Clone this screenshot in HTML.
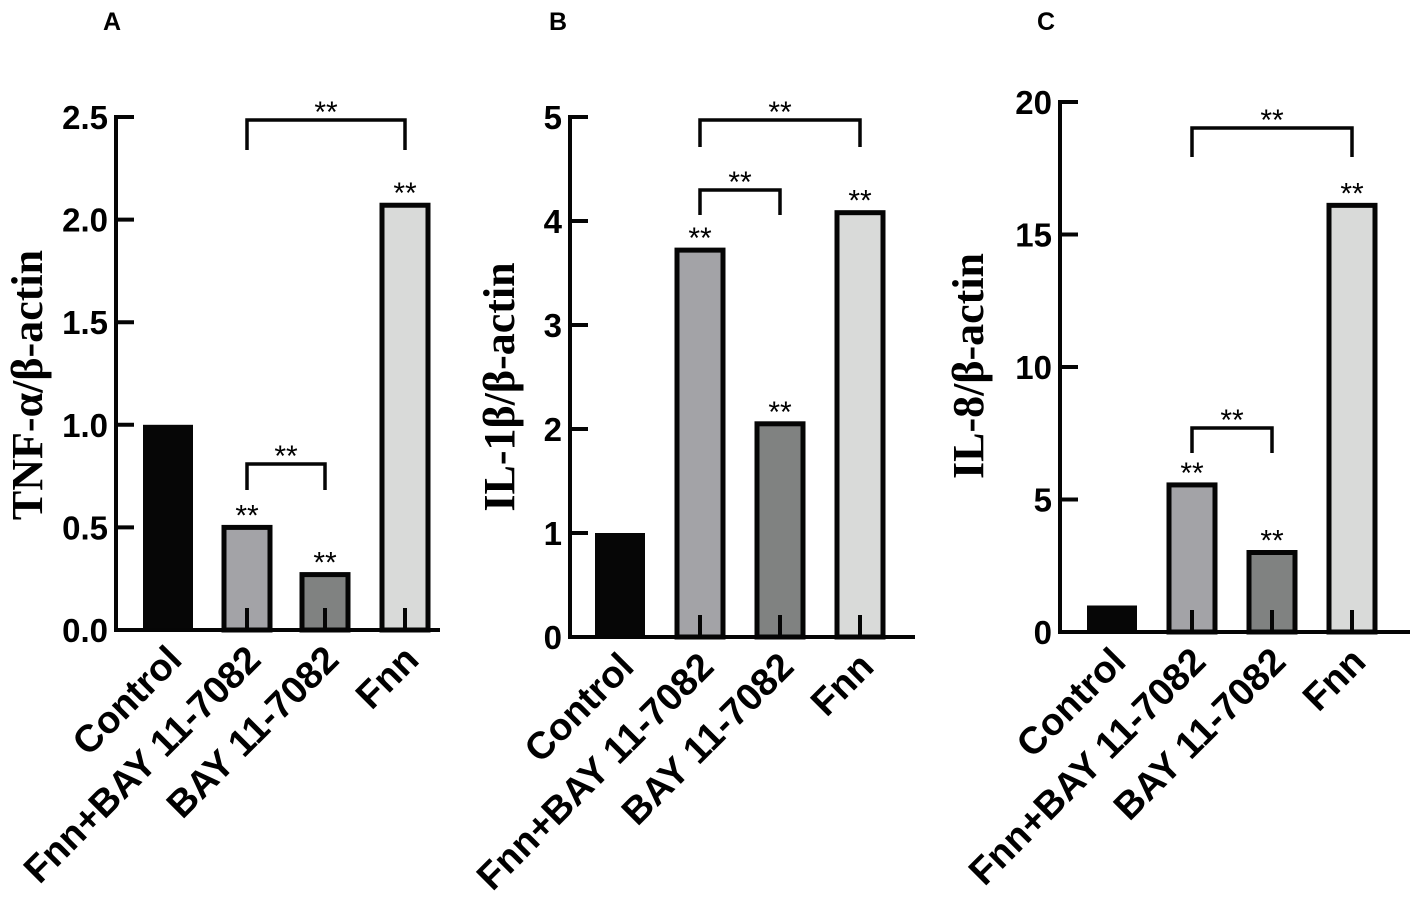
<!DOCTYPE html>
<html><head><meta charset="utf-8"><style>
body{margin:0;background:#fff}
svg{display:block}
</style></head><body>
<svg id="c" width="1417" height="910" viewBox="0 0 1417 910"></svg>
<script>
const categories = ["Control","Fnn+BAY 11-7082","BAY 11-7082","Fnn"];
const valuesA = [1.0, 0.5, 0.27, 2.07];
const valuesB = [1.0, 3.72, 2.05, 4.08];
const valuesC = [1.0, 5.55, 3.0, 16.1];
const ticksA = [0, 0.5, 1.0, 1.5, 2.0, 2.5];
const ticksB = [0, 1, 2, 3, 4, 5];
const ticksC = [0, 5, 10, 15, 20];
const tickLabelsA = ["0.0","0.5","1.0","1.5","2.0","2.5"];
const tickLabelsB = ["0","1","2","3","4","5"];
const tickLabelsC = ["0","5","10","15","20"];
const starsA = [false, true, true, true];
const starsB = [false, true, true, true];
const starsC = [false, true, true, true];

const fills = ["#060606","#a3a3a7","#808281","#d9dad9"];
const NS = "http://www.w3.org/2000/svg";
const SANS = '"Liberation Sans",Arial,sans-serif';
const SERIF = '"Liberation Serif","Times New Roman",serif';
const svg = document.getElementById('c');
function el(tag, attrs, parent, txt){
  const e = document.createElementNS(NS, tag);
  for (const k in attrs) e.setAttribute(k, attrs[k]);
  if (tag === 'text' && !attrs['font-family']) e.setAttribute('font-family', SANS);
  if (txt !== undefined) e.textContent = txt;
  (parent||svg).appendChild(e);
  return e;
}
const panels = [
  {id:'a', letter:'A', lx:112, axisX:116, y0:630, yTop:117, max:2.5, vals:valuesA, ticks:ticksA, tl:tickLabelsA, stars:starsA,
   centers:[168,247,325,405], end:440, title:"TNF-\u03b1/\u03b2-actin", tx:28, ty:385,
   brackets:[[1,3,120,150],[1,2,464,490]]},
  {id:'b', letter:'B', lx:558, axisX:570, y0:637, yTop:117, max:5, vals:valuesB, ticks:ticksB, tl:tickLabelsB, stars:starsB,
   centers:[620,700,780,860], end:915, title:"IL-1\u03b2/\u03b2-actin", tx:500, ty:387,
   brackets:[[1,3,120,147],[1,2,190,215]]},
  {id:'c', letter:'C', lx:1046, axisX:1060, y0:632, yTop:102, max:20, vals:valuesC, ticks:ticksC, tl:tickLabelsC, stars:starsC,
   centers:[1112,1192,1272,1352], end:1410, title:"IL-8/\u03b2-actin", tx:969, ty:366,
   brackets:[[1,3,128,157],[1,2,428,453]]}
];
panels.forEach(p=>{
  const g = el('g', {});
  
  
  const y = v => p.y0 - (v/p.max)*(p.y0-p.yTop);
  const L = el('text',{x:p.lx,y:30,'font-size':25,'font-weight':'bold','text-anchor':'middle'},g,p.letter);
  
  
  const T = el('text',{x:p.tx,y:p.ty,'font-size':44,'font-weight':'bold','text-anchor':'middle',
    'font-family':SERIF,transform:`rotate(-90 ${p.tx} ${p.ty})`,dy:14},g,p.title);
  
  
  p.vals.forEach((v,i)=>{
    const cx = p.centers[i], top = y(v);
    const r = el('rect',{x:cx-23,y:top,width:46,height:p.y0-top,fill:fills[i],stroke:'#050505','stroke-width':i===0?0:5},g);
    if(i===0){ r.setAttribute('x',cx-25); r.setAttribute('width',50); }
    
    
    if(i>0){
      const s = el('line',{x1:cx,x2:cx,y1:p.y0,y2:p.y0-22,stroke:'#050505','stroke-width':4},g);
      
      
    }
    if(p.stars[i]){
      const st = el('text',{x:cx,y:top-2,'font-size':30,'text-anchor':'middle'},g,'**');
      
      
    }
    const ax0 = cx-4, ay0 = p.y0+12;
    const lab = el('text',{x:ax0,y:ay0,'font-size':38,'font-weight':'bold','text-anchor':'end',
      transform:`rotate(-45 ${ax0} ${ay0})`,dy:28},g,categories[i]);
    
    
  });
  const ax = el('path',{d:`M${p.axisX} ${p.yTop-2}V${p.y0}H${p.end}`,fill:'none',stroke:'#050505','stroke-width':4},g);
  
  
  p.ticks.forEach((t,i)=>{
    const ty = y(t);
    const tk = el('line',{x1:p.axisX,x2:p.axisX+18,y1:ty,y2:ty,stroke:'#050505','stroke-width':4},g);
    
    
    const tt = el('text',{x:p.axisX-8,y:ty+12,'font-size':33,'font-weight':'bold','text-anchor':'end'},g,p.tl[i]);
    
    
  });
  p.brackets.forEach(b=>{
    const x1 = p.centers[b[0]], x2 = p.centers[b[1]];
    const br = el('path',{d:`M${x1} ${b[3]}V${b[2]}H${x2}V${b[3]}`,fill:'none',stroke:'#050505','stroke-width':3.5},g);
    
    
    const bs = el('text',{x:(x1+x2)/2,y:b[2]+2,'font-size':30,'text-anchor':'middle'},g,'**');
    
    
  });
});
</script>
</body></html>
